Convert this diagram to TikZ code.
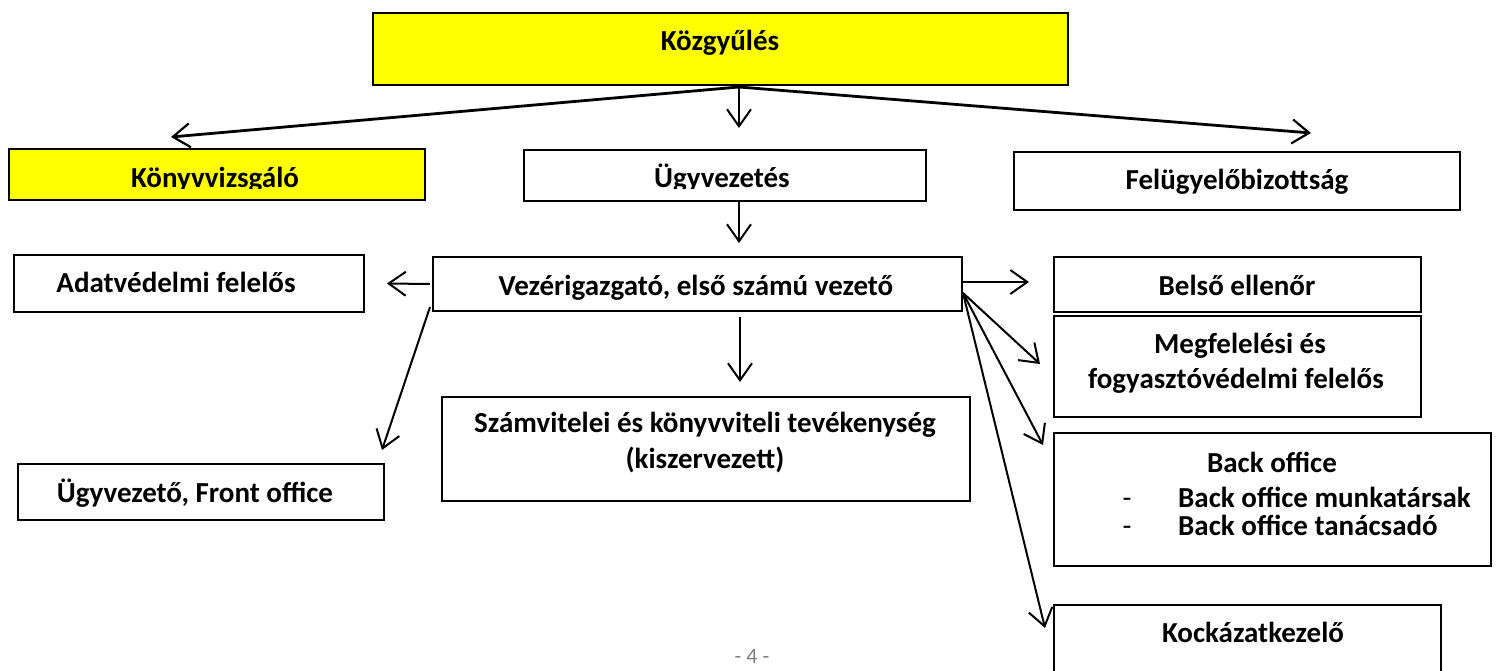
\documentclass[tikz,border=0pt]{standalone}
\usepackage{fontspec}
\setmainfont{Carlito}
\usetikzlibrary{arrows.meta,calc}
\definecolor{boxyellow}{HTML}{FFFF00}
\definecolor{pagegray}{HTML}{808080}
\begin{document}
\begin{tikzpicture}[x=1pt,y=-1pt,
  box/.style={draw,line width=2pt,rectangle,anchor=north west,inner sep=0pt},
  ybox/.style={box,fill=boxyellow},
  txt/.style={anchor=base,inner sep=0pt,font=\bfseries\fontsize{29}{35}\selectfont},
  ltxt/.style={txt,anchor=base west},
  dtxt/.style={anchor=base,inner sep=0pt,font=\fontsize{29}{35}\selectfont},
  arr/.style={line width=2pt,-{Straight Barb[length=17pt,width=24pt,line width=2pt]}},
  karr/.style={line width=2.8pt,-{Straight Barb[length=17pt,width=24pt,line width=2.2pt]}}]
\clip (0,0) rectangle (1500,671);
\fill[white] (0,0) rectangle (1500,671);
% boxes
\node[ybox,minimum width=695pt,minimum height=72pt] (kozgy) at (372,12) {};
\node[ybox,minimum width=416pt,minimum height=51pt] (konyv) at (8,148) {};
\node[box,minimum width=402pt,minimum height=51pt] (ugyv) at (523,149) {};
\node[box,minimum width=446pt,minimum height=58pt] (felug) at (1013,151) {};
\node[box,minimum width=350pt,minimum height=57pt] (adat) at (13,254) {};
\node[box,minimum width=529pt,minimum height=54pt] (vez) at (432,256) {};
\node[box,minimum width=367pt,minimum height=55pt] (belso) at (1053,256) {};
\node[box,minimum width=367pt,minimum height=101pt] (megf) at (1053,315) {};
\node[box,minimum width=528pt,minimum height=104pt] (szam) at (441,396) {};
\node[box,minimum width=366pt,minimum height=56pt] (front) at (17,463) {};
\node[box,minimum width=437pt,minimum height=133pt] (backo) at (1053,432) {};
\node[box,minimum width=387pt,minimum height=96pt] (kock) at (1053,604) {};
% texts
\node[txt] (kozgyT) at (720,51) {Közgyűlés};
\begin{scope}
\clip (0,140) rectangle (1000,188.5);
\node[txt] (konyvT) at (215,188) {Könyvvizsgáló};
\node[txt] (ugyvT) at (722,188) {Ügyvezetés};
\end{scope}
\node[txt] (felugT) at (1237,190) {Felügyelőbizottság};
\node[txt] (adatT) at (176,292) {Adatvédelmi felelős};
\node[txt] (vezT) at (696,295) {Vezérigazgató, első számú vezető};
\node[txt] (belsoT) at (1237,295) {Belső ellenőr};
\node[txt] (megfT1) at (1240,353) {Megfelelési és};
\node[txt] (megfT2) at (1236,388) {fogyasztóvédelmi felelős};
\node[txt] (szamT1) at (705,432) {Számvitelei és könyvviteli tevékenység};
\node[txt] (szamT2) at (705,468) {(kiszervezett)};
\node[txt] (frontT) at (195,502) {Ügyvezető, Front office};
\node[txt] (backT0) at (1272,472) {Back office};
\node[dtxt] (dash1) at (1127,507) {-};
\node[ltxt] (backT1) at (1178,507) {Back office munkatársak};
\node[dtxt] (dash2) at (1127,535) {-};
\node[ltxt] (backT2) at (1178,535) {Back office tanácsadó};
\node[txt] (kockT) at (1253,642) {Kockázatkezelő};
\node[anchor=base,inner sep=0pt,text=pagegray,font=\fontsize{22}{26}\selectfont] (page) at (752,663) {- 4 -};
% connectors
\draw[karr] ($(kozgy.south)+(18.5,1)$) -- ($(konyv.north)+(-46,-11)$);
\draw[arr] ($(kozgy.south)+(18.5,1)$) -- ($(ugyv.north)+(14,-21)$);
\draw[karr] ($(kozgy.south)+(18.5,1)$) -- ($(felug.north)+(74,-18)$);
\draw[arr] ($(ugyv.south)+(14,0)$) -- ($(vez.north)+(41.5,-13)$);
\draw[arr] ($(vez.west)+(-2,0)$) -- ($(adat.east)+(22,0)$);
\draw[arr] ($(vez.south west)+(-2,-5)$) -- ($(front.north east)+(-3,-13)$);
\draw[arr] ($(vez.east)+(0,-2)$) -- ($(belso.west)+(-24,-2.5)$);
\draw[arr] ($(vez.east)+(0,9)$) -- ($(megf.west)+(-13,-2.5)$);
\draw[arr] ($(vez.east)+(0,9)$) -- ($(backo.north west)+(-10,13)$);
\draw[arr] ($(vez.east)+(0,9)$) -- ($(kock.north west)+(-8,24)$);
\draw[arr] ($(vez.south)+(42.5,5)$) -- ($(szam.north)+(34,-14)$);
\end{tikzpicture}
\end{document}
